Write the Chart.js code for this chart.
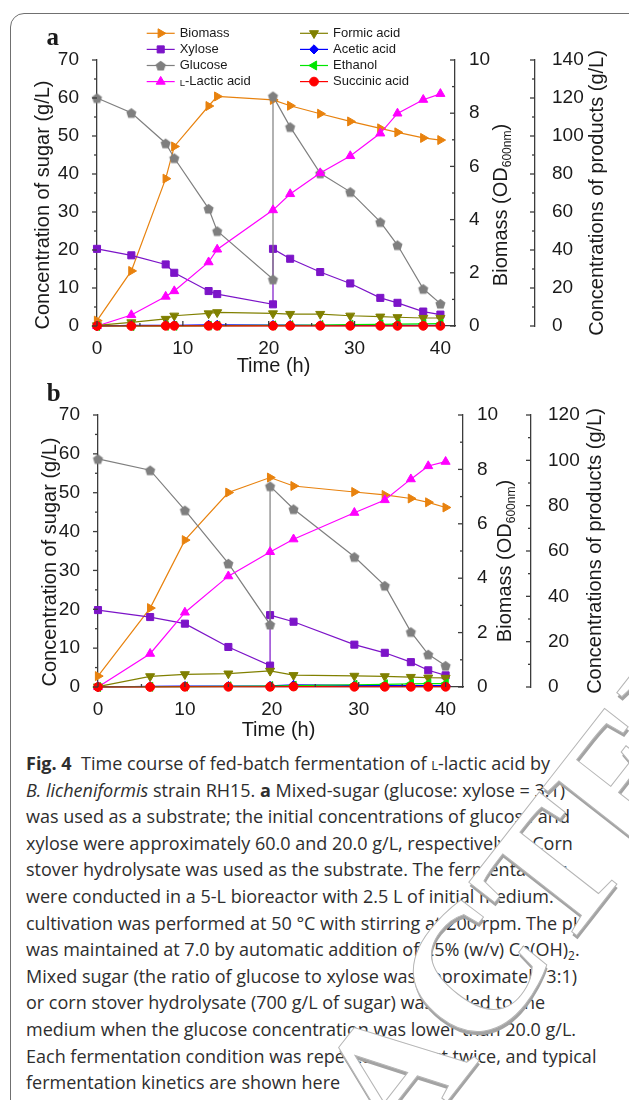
<!DOCTYPE html>
<html>
<head>
<meta charset="utf-8">
<script src="https://cdn.jsdelivr.net/npm/chart.js"></script>
<style>
html, body { margin: 0; padding: 0; background: #fff; }
body { width: 629px; height: 1100px; position: relative; overflow: hidden; }
#frame { position: absolute; left: 10px; top: 13px; width: 660px; height: 1140px; border: 1.5px solid #707070; border-radius: 14px; box-sizing: border-box; }
canvas { position: absolute; left: 0; }
#chartA { top: 0; }
#chartB { top: 380px; }
#caption { position: absolute; left: 26px; top: 750px; font-family: "Open Sans", sans-serif; font-size: 18px; line-height: 26.6px; color: #2e2e2e; white-space: nowrap; transform-origin: 0 0; }
#caption sub { font-size: 12px; line-height: 0; vertical-align: -4px; }
.sc { font-variant: small-caps; }
#mark { position: absolute; left: 0; top: 0; pointer-events: none; }
</style>
</head>
<body>
<div id="frame"></div>
<canvas id="chartA" width="629" height="385"></canvas>
<canvas id="chartB" width="629" height="370"></canvas>

<div id="caption">
  <div><b>Fig. 4</b>&nbsp; Time course of fed-batch fermentation of <span class="sc">l</span>-lactic acid by</div>
  <div><i>B. licheniformis</i> strain RH15. <b>a</b> Mixed-sugar (glucose: xylose = 3:1)</div>
  <div>was used as a substrate; the initial concentrations of glucose and</div>
  <div>xylose were approximately 60.0 and 20.0 g/L, respectively; <b>b</b> Corn</div>
  <div>stover hydrolysate was used as the substrate. The fermentations</div>
  <div>were conducted in a 5-L bioreactor with 2.5 L of initial medium. The</div>
  <div>cultivation was performed at 50 °C with stirring at 200 rpm. The pH</div>
  <div>was maintained at 7.0 by automatic addition of 25% (w/v) Ca(OH)<sub>2</sub>.</div>
  <div>Mixed sugar (the ratio of glucose to xylose was approximately 3:1)</div>
  <div>or corn stover hydrolysate (700 g/L of sugar) was added to the</div>
  <div>medium when the glucose concentration was lower than 20.0 g/L.</div>
  <div><span id="capWide">Each fermentation condition was repeated at least twice, and typical</span></div>
  <div>fermentation kinetics are shown here</div>
</div>

<svg id="mark" width="629" height="1100" viewBox="0 0 629 1100">
  <g transform="translate(92 1556) rotate(-52)" font-family="Liberation Serif, serif" font-weight="bold" font-size="180">
    <text x="-2.5" y="3" fill="#a3a3a3">RETRACTED ARTICLE</text>
    <text x="0" y="0" fill="#ffffff" stroke="#b5b5b5" stroke-width="1">RETRACTED ARTICLE</text>
  </g>
</svg>

<script>
// ---- panel a (mixed sugar) ----
const timeA      = [0, 4, 8, 9, 13, 14, 20.5, 22.5, 26, 29.5, 33, 35, 38, 40];
const sugarTimeA = [0, 4, 8, 9, 13, 14, 20.5, 20.5, 22.5, 26, 29.5, 33, 35, 38, 40];
const glucoseA   = [60.0, 56.1, 48.1, 44.2, 30.9, 25.0, 12.3, 60.5, 52.4, 40.2, 35.3, 27.4, 21.3, 9.8, 5.9];
const xyloseA    = [20.3, 18.6, 16.2, 14.0, 9.2, 8.4, 5.7, 20.3, 17.7, 14.2, 11.2, 7.4, 6.1, 3.8, 3.0];
const biomassA   = [0.2, 2.07, 5.54, 6.75, 8.27, 8.63, 8.5, 8.28, 7.98, 7.69, 7.43, 7.28, 7.07, 6.99];
const lacticA    = [0, 5.8, 15.5, 18.4, 33.6, 40.3, 61.0, 69.5, 80.5, 89.5, 101.4, 111.9, 119.1, 122.2];
const formicA    = [0.3, 1.9, 3.7, 5.4, 6.6, 7.2, 6.6, 6.3, 6.3, 5.4, 4.9, 4.6, 4.2, 4.2];
const aceticA    = [0, 0.3, 0.4, 0.4, 0.6, 0.6, 0.5, 0.5, 0.4, 0.4, 0.4, 0.4, 0.4, 0.4];
const ethanolA   = [0, 0, 0.1, 0.1, 0.2, 0.2, 0.3, 0.4, 0.5, 0.7, 0.9, 1.0, 1.1, 1.2];
const succinicA  = [0, 0, 0.1, 0.1, 0.1, 0.1, 0.1, 0.1, 0.1, 0.1, 0.1, 0.1, 0.1, 0.1];

// ---- panel b (corn stover hydrolysate) ----
const timeB      = [0, 6, 10, 15, 19.8, 22.5, 29.5, 33, 36, 38, 40];
const sugarTimeB = [0, 6, 10, 15, 19.8, 19.8, 22.5, 29.5, 33, 36, 38, 40];
const glucoseB   = [58.7, 55.8, 45.5, 31.8, 16.1, 51.7, 45.8, 33.5, 26.1, 14.2, 8.4, 5.5];
const xyloseB    = [19.8, 18.0, 16.3, 10.3, 5.5, 18.5, 16.8, 10.9, 8.8, 6.4, 4.3, 3.0];
const biomassB   = [0.4, 2.9, 5.4, 7.15, 7.7, 7.39, 7.17, 7.06, 6.93, 6.79, 6.6];
const lacticB    = [0, 14.7, 32.9, 48.9, 59.6, 65.2, 76.9, 82.5, 91.7, 97.5, 99.4];
const formicB    = [0.2, 4.7, 5.6, 5.9, 7.1, 5.2, 4.9, 4.7, 4.4, 4.1, 4.0];
const aceticB    = [0, 0.3, 0.4, 0.4, 0.5, 0.9, 0.7, 0.6, 0.6, 0.6, 0.6];
const ethanolB   = [0, 0.1, 0.2, 0.3, 0.4, 0.6, 1.0, 1.2, 1.4, 1.5, 1.5];
const succinicB  = [0, 0, 0.1, 0.1, 0.1, 0.2, 0.1, 0.1, 0.1, 0.1, 0.1];

// ---- tick labels ----
const timeTicks  = [0, 10, 20, 30, 40];
const sugarTicks = [0, 10, 20, 30, 40, 50, 60, 70];
const bioTicks   = [0, 2, 4, 6, 8, 10];
const prodTicksA = [0, 20, 40, 60, 80, 100, 120, 140];
const prodTicksB = [0, 20, 40, 60, 80, 100, 120];

const axisColor = '#3c3c3c';
const textColor = '#1a1a1a';
Chart.defaults.font.family = '"Liberation Sans", Arial, sans-serif';

function pentagon(color, r) {
  const c = document.createElement('canvas');
  const s = Math.ceil(r * 2 + 2);
  c.width = s; c.height = s;
  const g = c.getContext('2d');
  g.beginPath();
  for (let k = 0; k < 5; k++) {
    const a = -Math.PI / 2 + k * 2 * Math.PI / 5;
    const px = s / 2 + r * Math.cos(a), py = s / 2 + 0.6 + r * Math.sin(a);
    if (k) g.lineTo(px, py); else g.moveTo(px, py);
  }
  g.closePath();
  g.fillStyle = color;
  g.fill();
  return c;
}

// series looks, in legend order
const looks = [
  { key: 'biomass',  label: 'Biomass',       color: '#E8820E', style: 'triangle', rot: 90,  r: 5.2, axis: 'yBio' },
  { key: 'xylose',   label: 'Xylose',        color: '#7C14C8', style: 'rect',     rot: 0,   r: 5,   axis: 'ySugar' },
  { key: 'glucose',  label: 'Glucose',       color: '#7F7F7F', style: pentagon('#7F7F7F', 5.3), rot: 0, r: 5, axis: 'ySugar' },
  { key: 'lactic',   label: 'L-Lactic acid', color: '#FF00FF', style: 'triangle', rot: 0,   r: 5.2, axis: 'yProd' },
  { key: 'formic',   label: 'Formic acid',   color: '#808000', style: 'triangle', rot: 180, r: 5.2, axis: 'yProd' },
  { key: 'acetic',   label: 'Acetic acid',   color: '#0000FF', style: 'rectRot',  rot: 0,   r: 4.6, axis: 'yProd' },
  { key: 'ethanol',  label: 'Ethanol',       color: '#00E600', style: 'triangle', rot: 270, r: 5.2, axis: 'yProd' },
  { key: 'succinic', label: 'Succinic acid', color: '#FF0000', style: 'circle',   rot: 0,   r: 4.4, axis: 'yProd' }
];

function line(ctx, x1, y1, x2, y2) {
  ctx.beginPath(); ctx.moveTo(x1, y1); ctx.lineTo(x2, y2); ctx.stroke();
}

function tickMarks(scale, fn) {
  const vals = scale.ticks.map(t => t.value);
  vals.forEach(v => fn(v, 5));
  for (let i = 0; i < vals.length - 1; i++) fn((vals[i] + vals[i + 1]) / 2, 3);
}

function vTitle(ctx, x, y, parts) {
  // parts: [text, size, shift]; reads bottom to top, baseline at x
  ctx.save();
  ctx.translate(x, y);
  ctx.rotate(-Math.PI / 2);
  let w = 0;
  parts.forEach(p => { ctx.font = p[1] + 'px "Liberation Sans", Arial'; w += ctx.measureText(p[0]).width; });
  let cx = -w / 2;
  ctx.textBaseline = 'alphabetic';
  ctx.textAlign = 'left';
  parts.forEach(p => {
    ctx.font = p[1] + 'px "Liberation Sans", Arial';
    ctx.fillText(p[0], cx, p[2]);
    cx += ctx.measureText(p[0]).width;
  });
  ctx.restore();
}

const originStyle = {
  id: 'originStyle',
  afterDraw(chart, args, o) {
    const ctx = chart.ctx;
    const { x, ySugar, yBio, yProd } = chart.scales;
    ctx.save();
    ctx.strokeStyle = axisColor;
    ctx.lineWidth = 1.3;
    [[ySugar, ySugar.right], [yBio, yBio.left], [yProd, yProd.left]].forEach(([s, ax]) => {
      tickMarks(s, (v, len) => { const p = s.getPixelForValue(v); line(ctx, ax - len, p, ax, p); });
    });
    tickMarks(x, (v, len) => { const p = x.getPixelForValue(v); line(ctx, p, x.top, p, x.top - len); });

    // axis titles
    ctx.fillStyle = textColor;
    const midY = (ySugar.top + ySugar.bottom) / 2;
    vTitle(ctx, o.sugarX, midY + o.sugarDy, [['Concentration of sugar (g/L)', 20, 0]]);
    vTitle(ctx, o.bioX, midY + o.bioDy, [['Biomass (OD', 20, 0], ['600nm', 12, 4], [')', 20, 0]]);
    vTitle(ctx, o.prodX, midY, [['Concentrations of products (g/L)', 20, 0]]);
    ctx.font = '20px "Liberation Sans", Arial';
    ctx.textAlign = 'center';
    ctx.textBaseline = 'middle';
    ctx.fillText('Time (h)', (x.left + x.right) / 2 + o.timeDx, o.timeY);

    // panel letter
    ctx.font = 'bold 25px "Liberation Serif", "Times New Roman", serif';
    ctx.textAlign = 'left';
    ctx.textBaseline = 'alphabetic';
    ctx.fillText(o.letter, o.letterX, o.letterY);

    if (o.legend) drawLegend(chart, o.legend);
    ctx.restore();
  }
};

function drawLegend(chart, L) {
  const ctx = chart.ctx;
  chart.data.datasets.forEach((ds, i) => {
    const x0 = L.cols[i < 4 ? 0 : 1];
    const y = L.top + (i % 4) * L.step;
    ctx.strokeStyle = ds.borderColor;
    ctx.lineWidth = ds.borderWidth;
    line(ctx, x0, y, x0 + L.len, y);
    ctx.fillStyle = ds.pointBackgroundColor;
    ctx.strokeStyle = ds.pointBorderColor;
    ctx.lineWidth = 1;
    Chart.helpers.drawPoint(ctx, { pointStyle: ds.pointStyle, rotation: ds.pointRotation, radius: ds.pointRadius, borderWidth: 1 }, x0 + L.len / 2, y);
    ctx.fillStyle = textColor;
    ctx.textBaseline = 'middle';
    ctx.textAlign = 'left';
    let tx = x0 + L.len + 5;
    let label = ds.label;
    if (label.startsWith('L-')) {
      ctx.font = '9.5px "Liberation Sans", Arial';
      ctx.fillText('L', tx, y + 1.6);
      tx += ctx.measureText('L').width;
      label = label.slice(1);
    }
    ctx.font = '13px "Liberation Sans", Arial';
    ctx.fillText(label, tx, y);
  });
}

function buildSets(P) {
  return looks.map((s, i) => {
    const xs = s.axis === 'ySugar' ? P.sugarTime : P.time;
    const ys = P[s.key];
    return {
      label: s.label,
      data: xs.map((t, k) => ({ x: t, y: ys[k] })),
      yAxisID: s.axis,
      borderColor: s.color,
      backgroundColor: s.color,
      pointBackgroundColor: s.color,
      pointBorderColor: s.color,
      pointBorderWidth: 1,
      borderWidth: 1.2,
      pointStyle: s.style,
      pointRotation: s.rot,
      pointRadius: s.r,
      tension: 0,
      fill: false,
      clip: false,
      order: looks.length - i
    };
  });
}

function yAxis(pos, max, ticks, width, pad, weight) {
  return {
    type: 'linear', position: pos, min: 0, max: max, weight: weight,
    afterBuildTicks: ax => { ax.ticks = ticks.map(v => ({ value: v })); },
    afterFit: ax => { ax.width = width; },
    grid: { display: false },
    border: { color: axisColor, width: 1.3 },
    ticks: { padding: pad, color: textColor, font: { size: 19 }, autoSkip: false }
  };
}

function makeChart(id, P) {
  const b = P.box;
  return new Chart(document.getElementById(id), {
    type: 'line',
    data: { datasets: buildSets(P) },
    options: {
      responsive: false,
      animation: false,
      devicePixelRatio: 1,
      layout: { padding: { top: b.top, left: 0, right: 0, bottom: 0 } },
      plugins: { legend: { display: false }, tooltip: { enabled: false }, originStyle: b },
      scales: {
        x: {
          type: 'linear', position: 'bottom', min: 0, max: P.xMax,
          afterBuildTicks: ax => { ax.ticks = timeTicks.map(v => ({ value: v })); },
          afterFit: ax => { ax.height = b.xh; },
          grid: { display: false },
          border: { color: axisColor, width: 1.3 },
          ticks: { padding: 3, color: textColor, font: { size: 19 }, maxRotation: 0, autoSkip: false }
        },
        ySugar: yAxis('left', 70, sugarTicks, b.left, 10, 0),
        yBio: yAxis('right', 10, bioTicks, b.bio, 6, 0),
        yProd: yAxis('right', P.prodTicks[P.prodTicks.length - 1], P.prodTicks, b.prod, 9, 1)
      }
    },
    plugins: [originStyle]
  });
}

makeChart('chartA', {
  time: timeA, sugarTime: sugarTimeA,
  glucose: glucoseA, xylose: xyloseA, biomass: biomassA, lactic: lacticA,
  formic: formicA, acetic: aceticA, ethanol: ethanolA, succinic: succinicA,
  prodTicks: prodTicksA, xMax: 41.7,
  box: { top: 60, left: 97, bio: 80, prod: 94, xh: 59,
         sugarX: 49, sugarDy: 12, bioX: 507, bioDy: 12, prodX: 602.5, timeY: 366, timeDx: -2.5,
         letter: 'a', letterX: 46.5, letterY: 45,
         legend: { cols: [146.7, 300], len: 28, top: 33.3, step: 16.1 } }
});

makeChart('chartB', {
  time: timeB, sugarTime: sugarTimeB,
  glucose: glucoseB, xylose: xyloseB, biomass: biomassB, lactic: lacticB,
  formic: formicB, acetic: aceticB, ethanol: ethanolB, succinic: succinicB,
  prodTicks: prodTicksB, xMax: 42,
  box: { top: 35, left: 98, bio: 68, prod: 98, xh: 63,
         sugarX: 56, sugarDy: 11, bioX: 511, bioDy: 10, prodX: 601, timeY: 350, timeDx: -2,
         letter: 'b', letterX: 46.7, letterY: 20.7, legend: null }
});

// fit the caption block to the width of the printed caption
function fitCaption() {
  const w = document.getElementById('capWide').getBoundingClientRect().width;
  if (w > 0) document.getElementById('caption').style.transform = 'scaleX(' + (578 / w) + ')';
}
fitCaption();
if (document.fonts && document.fonts.ready) document.fonts.ready.then(fitCaption);
</script>
</body>
</html>
